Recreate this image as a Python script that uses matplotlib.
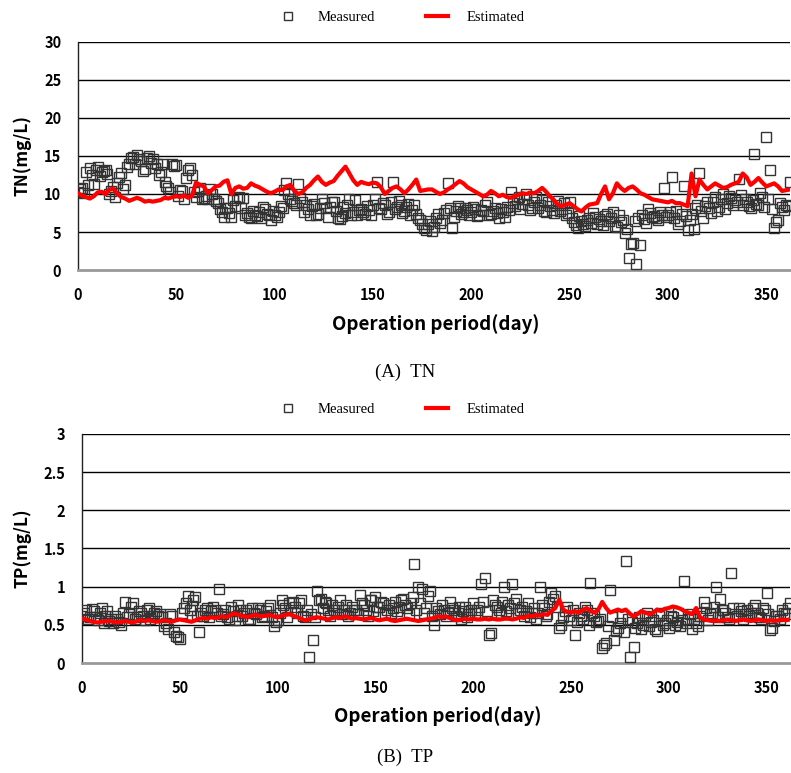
import numpy as np
import matplotlib
matplotlib.use("Agg")
from matplotlib import pyplot as plt

plt.rcParams['font.family'] = ['Noto Sans CJK KR', 'DejaVu Sans']

# TN measured, even days 0..362 and odd days 1..361
tn_measured_even = [
    10.3, 10.8, 12.9, 13.4, 11.3, 13.6, 12.9, 13.2, 10.0, 10.9,
    11.5, 12.8, 11.2, 14.0, 14.9, 15.1, 14.3, 13.3, 15.0, 14.6,
    13.9, 12.9, 11.6, 10.8, 13.9, 13.8, 10.5, 9.3, 13.2, 12.5,
    9.6, 10.8, 9.5, 9.3, 10.0, 9.1, 8.0, 7.0, 8.2, 7.0,
    8.4, 9.6, 9.5, 7.5, 6.9, 7.2, 7.6, 8.3, 7.4, 6.6,
    7.3, 7.6, 8.2, 11.5, 9.4, 8.8, 11.3, 9.0, 8.5, 7.2,
    8.7, 7.4, 9.3, 8.1, 8.3, 8.9, 6.9, 7.1, 7.5, 9.4,
    7.6, 7.3, 8.0, 7.4, 7.9, 8.6, 11.6, 8.0, 8.5, 7.6,
    11.6, 8.3, 8.6, 7.8, 8.7, 7.9, 7.4, 6.6, 5.5, 6.1,
    5.1, 6.8, 6.2, 7.5, 11.4, 5.5, 7.8, 8.1, 7.6, 7.9,
    7.6, 8.0, 7.3, 7.7, 9.0, 7.4, 8.1, 6.9, 7.6, 8.3,
    10.2, 8.4, 9.6, 8.7, 10.0, 7.9, 8.9, 8.2, 9.2, 7.6,
    8.4, 7.5, 9.1, 8.0, 7.2, 9.0, 6.3, 5.5, 6.4, 5.8,
    6.9, 7.5, 6.0, 6.5, 7.1, 6.4, 7.6, 5.6, 6.3, 4.9,
    1.6, 3.6, 0.8, 3.3, 6.7, 8.0, 7.0, 6.9, 7.6, 10.8,
    7.2, 12.2, 7.8, 6.4, 11.0, 5.2, 7.4, 8.2, 12.8, 6.8,
    9.0, 7.5, 9.6, 8.3, 10.0, 8.8, 9.5, 9.2, 12.0, 8.6,
    9.0, 8.2, 15.3, 8.5, 9.6, 17.5, 13.2, 5.5, 6.6, 8.3,
    8.5, 11.6,
]
tn_measured_odd = [
    10.6, 10.1, 11.2, 12.5, 13.1, 12.4, 13.0, 12.6, 10.4, 9.6,
    12.2, 10.6, 13.6, 14.7, 13.9, 14.6, 13.0, 14.8, 14.1, 13.4,
    12.5, 14.0, 11.1, 10.2, 13.7, 9.8, 10.4, 12.1, 13.4, 10.2,
    10.4, 9.3, 9.8, 10.6, 9.4, 8.8, 7.6, 8.1, 7.5, 9.2,
    9.5, 8.1, 7.2, 7.0, 7.8, 7.1, 6.8, 8.0, 7.3, 7.8,
    7.0, 8.4, 10.5, 10.0, 9.1, 8.5, 9.5, 7.6, 8.0, 8.4,
    7.2, 8.2, 8.8, 7.0, 9.0, 7.8, 6.7, 8.3, 8.6, 7.3,
    9.2, 7.9, 7.6, 8.4, 7.2, 9.3, 8.1, 8.8, 7.4, 8.9,
    8.0, 9.1, 7.5, 8.3, 7.2, 8.6, 6.8, 6.0, 5.3, 6.5,
    5.7, 7.4, 6.6, 7.9, 8.2, 7.0, 8.4, 7.4, 8.2, 7.3,
    8.3, 7.1, 7.9, 8.5, 7.2, 7.8, 7.5, 8.0, 7.0, 7.9,
    8.8, 9.3, 8.0, 9.4, 8.6, 8.1, 9.6, 8.5, 7.8, 8.9,
    7.9, 8.6, 7.7, 8.8, 7.5, 6.8, 5.9, 7.1, 6.1, 6.6,
    6.2, 7.0, 6.7, 5.9, 7.4, 6.9, 5.8, 7.2, 6.6, 5.4,
    3.4, 6.5, 6.9, 7.2, 6.2, 7.5, 7.1, 6.6, 7.3, 7.0,
    7.6, 6.9, 6.1, 7.4, 7.1, 6.6, 5.4, 8.6, 7.8, 8.4,
    8.2, 8.9, 7.7, 9.4, 8.0, 9.8, 8.6, 9.0, 9.9, 9.3,
    8.4, 9.2, 8.7, 10.1, 8.3, 9.4, 8.0, 6.3, 8.8, 7.9,
    8.4,
]
# TN estimated, every 2 days (0..362)
tn_estimated = [
    10.1, 9.8, 9.6, 9.4, 9.7, 10.2, 10.3, 10.0, 10.6, 10.7,
    10.0, 9.6, 9.4, 9.1, 9.3, 9.5, 9.3, 9.0, 9.1, 9.0,
    9.1, 9.2, 9.5, 9.4, 9.6, 9.7, 9.6, 9.8, 9.5, 9.8,
    11.5, 11.2, 11.0, 10.1, 10.5, 11.0, 11.1, 11.6, 11.8, 10.0,
    10.8, 11.0, 10.7, 10.8, 11.4, 11.1, 10.9, 10.6, 10.3, 10.1,
    10.3, 10.6, 10.5, 11.0, 11.2, 10.4, 10.0, 10.2, 10.8, 11.2,
    11.8, 12.3, 11.6, 11.2, 11.5, 11.7, 12.4, 13.0, 13.6, 12.7,
    11.8, 11.2, 11.6, 11.4, 11.3, 11.5, 11.4, 10.9, 10.0, 10.4,
    10.8, 11.0, 10.6, 10.1, 10.6, 11.2, 11.9, 10.4, 10.5, 10.6,
    10.6, 10.3, 10.0, 10.2, 10.6, 10.9, 11.3, 11.7, 11.4, 10.9,
    10.6, 10.3, 10.0, 9.7, 9.9, 10.4, 10.1, 9.7, 9.9, 9.6,
    9.5, 9.7, 9.9, 10.1, 10.0, 10.2, 10.1, 10.4, 10.8, 10.3,
    9.7, 9.2, 8.6, 8.4, 8.6, 8.8, 8.4, 8.0, 7.7, 8.2,
    8.6, 8.7, 8.8, 10.0, 11.0, 9.3, 10.1, 11.4, 10.8, 10.4,
    10.8, 11.0, 10.6, 10.1, 9.9, 9.6, 9.3, 9.2, 9.1, 9.0,
    8.9, 9.1, 8.8, 8.8, 8.6, 8.4, 12.7, 9.7, 11.9, 11.2,
    10.6, 11.0, 11.4, 11.1, 10.8, 10.9, 11.2, 11.4, 11.6, 12.7,
    12.2, 11.2, 11.6, 12.1, 11.5, 11.0, 11.2, 11.4, 11.0, 10.4,
    10.5, 10.6,
]

# TP measured, even days 0..362 and odd days 1..361
tp_measured_even = [
    0.62, 0.70, 0.60, 0.68, 0.56, 0.72, 0.62, 0.55, 0.52, 0.58,
    0.50, 0.80, 0.64, 0.78, 0.60, 0.66, 0.56, 0.72, 0.62, 0.68,
    0.64, 0.48, 0.44, 0.62, 0.36, 0.32, 0.72, 0.88, 0.75, 0.86,
    0.41, 0.62, 0.72, 0.68, 0.70, 0.97, 0.64, 0.60, 0.74, 0.56,
    0.76, 0.62, 0.70, 0.58, 0.66, 0.72, 0.60, 0.68, 0.76, 0.48,
    0.56, 0.82, 0.72, 0.78, 0.80, 0.66, 0.82, 0.60, 0.08, 0.30,
    0.94, 0.84, 0.80, 0.70, 0.76, 0.66, 0.82, 0.70, 0.62, 0.74,
    0.70, 0.89, 0.76, 0.62, 0.82, 0.86, 0.74, 0.78, 0.70, 0.66,
    0.80, 0.74, 0.84, 0.72, 0.78, 1.30, 0.99, 0.97, 0.72, 0.94,
    0.50, 0.68, 0.76, 0.62, 0.80, 0.70, 0.66, 0.58, 0.74, 0.64,
    0.78, 0.70, 1.04, 1.11, 0.37, 0.82, 0.74, 0.66, 1.00, 0.76,
    1.04, 0.84, 0.70, 0.62, 0.78, 0.66, 0.58, 0.99, 0.72, 0.64,
    0.92, 0.88, 0.46, 0.60, 0.74, 0.56, 0.37, 0.66, 0.58, 0.70,
    1.05, 0.62, 0.55, 0.20, 0.26, 0.96, 0.30, 0.46, 0.62, 1.34,
    0.08, 0.21, 0.52, 0.44, 0.62, 0.48, 0.56, 0.42, 0.66, 0.52,
    0.46, 0.60, 0.54, 0.48, 1.07, 0.58, 0.44, 0.52, 0.62, 0.80,
    0.56, 0.66, 0.99, 0.84, 0.70, 0.60, 1.18, 0.64, 0.72, 0.58,
    0.70, 0.66, 0.76, 0.60, 0.72, 0.92, 0.43, 0.55, 0.62, 0.70,
    0.64, 0.78,
]
tp_measured_odd = [
    0.66, 0.58, 0.71, 0.60, 0.66, 0.53, 0.68, 0.57, 0.61, 0.54,
    0.66, 0.60, 0.74, 0.58, 0.68, 0.62, 0.70, 0.58, 0.66, 0.61,
    0.60, 0.52, 0.64, 0.40, 0.34, 0.66, 0.78, 0.70, 0.82, 0.62,
    0.66, 0.70, 0.60, 0.74, 0.66, 0.62, 0.70, 0.58, 0.68, 0.62,
    0.70, 0.66, 0.58, 0.72, 0.64, 0.70, 0.62, 0.72, 0.60, 0.54,
    0.66, 0.76, 0.60, 0.70, 0.74, 0.78, 0.62, 0.70, 0.64, 0.60,
    0.82, 0.72, 0.78, 0.62, 0.70, 0.74, 0.64, 0.76, 0.66, 0.70,
    0.64, 0.78, 0.70, 0.82, 0.68, 0.74, 0.80, 0.64, 0.76, 0.72,
    0.68, 0.82, 0.76, 0.64, 0.86, 0.70, 0.78, 0.66, 0.88, 0.62,
    0.72, 0.64, 0.70, 0.66, 0.72, 0.62, 0.74, 0.68, 0.60, 0.70,
    0.66, 0.74, 0.80, 0.68, 0.39, 0.76, 0.70, 0.80, 0.68, 0.72,
    0.78, 0.66, 0.74, 0.68, 0.60, 0.72, 0.66, 0.76, 0.62, 0.80,
    0.84, 0.74, 0.50, 0.68, 0.62, 0.70, 0.54, 0.62, 0.74, 0.50,
    0.66, 0.54, 0.58, 0.24, 0.48, 0.60, 0.42, 0.52, 0.40, 0.58,
    0.54, 0.46, 0.60, 0.50, 0.66, 0.54, 0.44, 0.62, 0.50, 0.56,
    0.62, 0.50, 0.66, 0.56, 0.52, 0.64, 0.58, 0.48, 0.66, 0.72,
    0.64, 0.74, 0.60, 0.70, 0.66, 0.58, 0.72, 0.62, 0.68, 0.64,
    0.62, 0.72, 0.66, 0.58, 0.70, 0.64, 0.46, 0.62, 0.58, 0.66,
    0.72,
]
# TP estimated, every 2 days (0..362)
tp_estimated = [
    0.58, 0.57, 0.55, 0.54, 0.53, 0.54, 0.55, 0.55, 0.54, 0.53,
    0.54, 0.55, 0.54, 0.53, 0.55, 0.56, 0.55, 0.56, 0.55, 0.54,
    0.55, 0.56, 0.55, 0.54, 0.56, 0.57, 0.56, 0.55, 0.54, 0.56,
    0.58, 0.59, 0.58, 0.60, 0.59, 0.60, 0.61, 0.60, 0.63, 0.65,
    0.63, 0.62, 0.60, 0.61, 0.63, 0.62, 0.61, 0.62, 0.63, 0.61,
    0.60, 0.62, 0.63, 0.64, 0.62, 0.60, 0.58, 0.56, 0.57, 0.59,
    0.60, 0.59, 0.58, 0.57, 0.59, 0.60, 0.59, 0.61, 0.60, 0.58,
    0.59, 0.58, 0.57, 0.58, 0.59, 0.57, 0.56, 0.57, 0.58, 0.56,
    0.55, 0.56, 0.57, 0.58, 0.57, 0.56, 0.55, 0.56, 0.57, 0.58,
    0.59, 0.61, 0.60, 0.61, 0.59, 0.57, 0.56, 0.57, 0.58, 0.57,
    0.58, 0.57, 0.57, 0.58, 0.57, 0.58, 0.57, 0.57, 0.58, 0.58,
    0.57, 0.58, 0.60, 0.59, 0.62, 0.61, 0.63, 0.62, 0.64, 0.63,
    0.68, 0.72, 0.83, 0.70, 0.67, 0.66, 0.68, 0.66, 0.69, 0.72,
    0.68, 0.66, 0.70, 0.80, 0.72, 0.66, 0.68, 0.70, 0.68, 0.70,
    0.65, 0.61, 0.64, 0.68, 0.66, 0.64, 0.66, 0.70, 0.68, 0.71,
    0.72, 0.74, 0.73, 0.71, 0.68, 0.66, 0.64, 0.72, 0.60, 0.57,
    0.56, 0.55, 0.56, 0.55, 0.56, 0.57, 0.56, 0.55, 0.56, 0.57,
    0.56, 0.55, 0.56, 0.57, 0.56, 0.55, 0.56, 0.55, 0.56, 0.57,
    0.56, 0.57,
]

days_even = np.arange(0, 363, 2)
days_odd = np.arange(1, 362, 2)
meas_days = np.concatenate([days_even, days_odd])

x_ticks = [0, 50, 100, 150, 200, 250, 300, 350]
tn_yticks = [0, 5, 10, 15, 20, 25, 30]
tp_yticks = [0, 0.5, 1, 1.5, 2, 2.5, 3]
tp_ylabels = ['0', '0.5', '1', '1.5', '2', '2.5', '3']

fig = plt.figure(figsize=(7.91, 7.73), dpi=100)
ax1 = fig.add_axes([0.0986, 0.6507, 0.900, 0.295])
ax2 = fig.add_axes([0.1037, 0.1423, 0.895, 0.2963])


def style_axis(ax, measured, estimated, yticks, ylabels, ylabel, ylim,
               ylab_x, xlab_y):
    ax.plot(meas_days, measured, linestyle='none', marker='s', markersize=6.8,
            markerfacecolor='none', markeredgecolor='#333333',
            markeredgewidth=1.0, label='Measured', zorder=3)
    ax.plot(days_even, estimated, color='#ff0000', linewidth=3.0,
            label='Estimated', zorder=4)
    ax.set_xlim(0, 362)
    ax.set_ylim(*ylim)
    ax.set_xticks(x_ticks)
    ax.set_yticks(yticks)
    ax.set_yticklabels(ylabels)
    for y in yticks[1:]:
        ax.axhline(y, color='black', linewidth=1.0, zorder=1)
    for s in ['top', 'right']:
        ax.spines[s].set_visible(False)
    ax.spines['left'].set_color('#222222')
    ax.spines['left'].set_linewidth(1.0)
    ax.spines['bottom'].set_color('#999999')
    ax.spines['bottom'].set_linewidth(2.0)
    ax.tick_params(length=0, labelsize=10.5, pad=12)
    for lab in ax.get_xticklabels() + ax.get_yticklabels():
        lab.set_fontweight('bold')
    ax.set_xlabel('Operation period(day)', fontsize=13.5, fontweight='bold')
    ax.set_ylabel(ylabel, fontsize=12.5, fontweight='bold')
    ax.xaxis.set_label_coords(0.503, xlab_y)
    ax.yaxis.set_label_coords(ylab_x, 0.5)


style_axis(ax1, tn_measured_even + tn_measured_odd, tn_estimated, tn_yticks,
           [str(v) for v in tn_yticks], 'TN(mg/L)', (0, 30), -0.066, -0.192)
style_axis(ax2, tp_measured_even + tp_measured_odd, tp_estimated, tp_yticks,
           tp_ylabels, 'TP(mg/L)', (0, 3), -0.072, -0.190)

legend_font = {'family': 'Liberation Serif', 'size': 10.5}
for ax, ypos in [(ax1, 0.978), (ax2, 0.470)]:
    h, l = ax.get_legend_handles_labels()
    fig.legend(h, l, loc='center', bbox_to_anchor=(0.507, ypos), ncol=2,
               frameon=False, prop=legend_font, handlelength=1.5,
               handletextpad=1.3, columnspacing=3.5, markerscale=0.75)

fig.text(0.512, 1 - 372 / 773, '(A)  TN', ha='center', va='center',
         family='Liberation Serif', fontsize=13.5)
fig.text(0.512, 1 - 757 / 773, '(B)  TP', ha='center', va='center',
         family='Liberation Serif', fontsize=13.5)

fig.savefig('out.png', dpi=100)
